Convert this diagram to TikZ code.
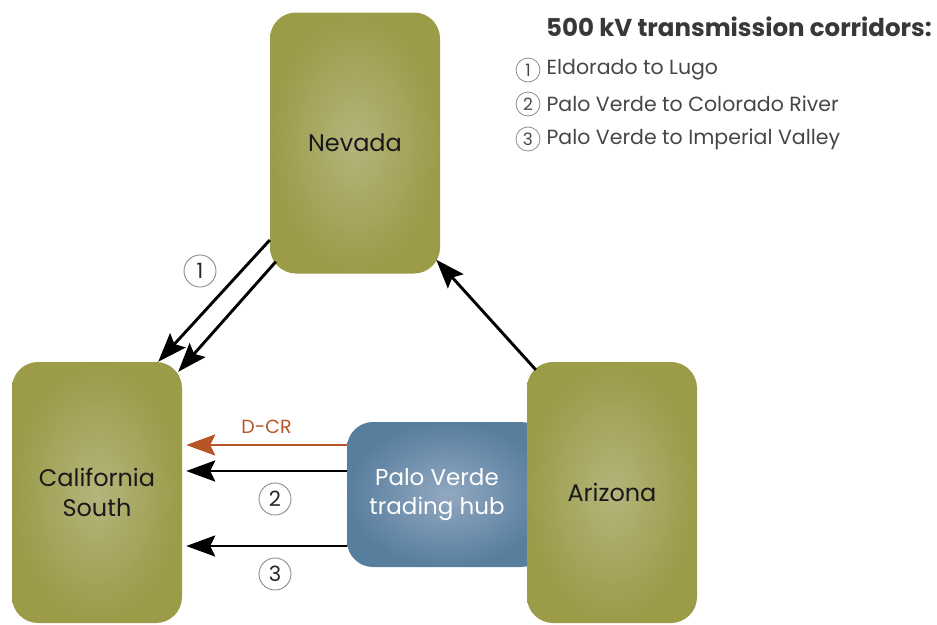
\documentclass[tikz,border=0pt]{standalone}
\usepackage{fontspec}
\setmainfont{Poppins}
\usetikzlibrary{arrows.meta,positioning}

\definecolor{regolive}{RGB}{155,155,72}
\definecolor{regolivelt}{RGB}{180,180,124}
\definecolor{hubblue}{RGB}{88,126,158}
\definecolor{hubbluelt}{RGB}{146,168,192}
\definecolor{dcrorange}{RGB}{182,86,38}
\definecolor{lgdgray}{RGB}{70,70,70}

\begin{document}
\begin{tikzpicture}[x=1pt,y=-1pt,
  region/.style={rounded corners=26pt, minimum width=170pt, minimum height=261pt,
    shading=radial, inner color=regolivelt, outer color=regolive,
    align=center, text=black!90, font=\fontsize{24}{30}\selectfont},
  hubbox/.style={rounded corners=26pt, minimum width=200pt, minimum height=145pt,
    shading=radial, inner color=hubbluelt, outer color=hubblue},
  hubtext/.style={align=center, text=white, font=\fontsize{23}{29}\selectfont},
  tie/.style={line width=2.9pt, -{Stealth[length=29pt,width=21pt,inset=5pt]}},
  numcirc/.style={circle, draw=black!45, line width=0.9pt, minimum size=32pt,
    inner sep=0pt, text=black!85, font=\fontsize{21}{24}\selectfont},
  lgdcirc/.style={circle, draw=black!45, line width=0.8pt, minimum size=24pt,
    inner sep=0pt, text=lgdgray, font=\fontsize{17}{20}\selectfont},
  lgdtext/.style={anchor=west, inner sep=0pt, text=lgdgray, font=\fontsize{20.5}{24}\selectfont}]

  \useasboundingbox (0,0) rectangle (937,624);

  % legend
  \node[anchor=east, inner sep=0pt, text=black!78, font=\fontsize{24.5}{28}\selectfont\bfseries]
    (lgdtitle) at (932,27) {500 kV transmission corridors:};
  \node[lgdcirc] (lc1) at (528,70) {1};
  \node[lgdtext, right=6pt of lc1] (lt1) {Eldorado to Lugo};
  \node[lgdcirc] (lc2) at (528,104) {2};
  \node[lgdtext, right=6pt of lc2] (lt2) {Palo Verde to Colorado River};
  \node[lgdcirc] (lc3) at (528,139) {3};
  \node[lgdtext, right=6pt of lc3] (lt3) {Palo Verde to Imperial Valley};

  % regions
  \node[region] (nevada) at (355,143) {Nevada};
  \node[region] (calso) at (97,492.5) {California\\South};
  \node[hubbox] (hub) at (447,494.5) {};
  \node[hubtext] (hubname) at ([xshift=-10pt]hub.center) {Palo Verde\\trading hub};
  \node[region] (arizona) at (612,492.5) {Arizona};

  % corridor 1: Eldorado to Lugo
  \draw[tie] ([yshift=-97pt]nevada.west) -- ([xshift=-24pt]calso.north east);
  \draw[tie] ([shift={(6,-12)}]nevada.south west) -- ([shift={(-4,10)}]calso.north east);
  \node[numcirc] (n1) at (200,271) {1};

  % Arizona to Nevada
  \draw[tie] ([shift={(9,8)}]arizona.north west) -- ([shift={(-4,-14)}]nevada.south east);

  % hub ties to California South
  \draw[tie, dcrorange] (hub.west |- 0,445) -- ([xshift=4pt]calso.east |- 0,445)
    node[midway, above=7pt, font=\fontsize{19}{22}\selectfont] (dcr) {D-CR};
  \draw[tie] (hub.west |- 0,471) -- ([xshift=4pt]calso.east |- 0,471);
  \node[numcirc] (n2) at (275,499) {2};
  \draw[tie] (hub.west |- 0,546) -- ([xshift=4pt]calso.east |- 0,546);
  \node[numcirc] (n3) at (275,574) {3};

\end{tikzpicture}
\end{document}
